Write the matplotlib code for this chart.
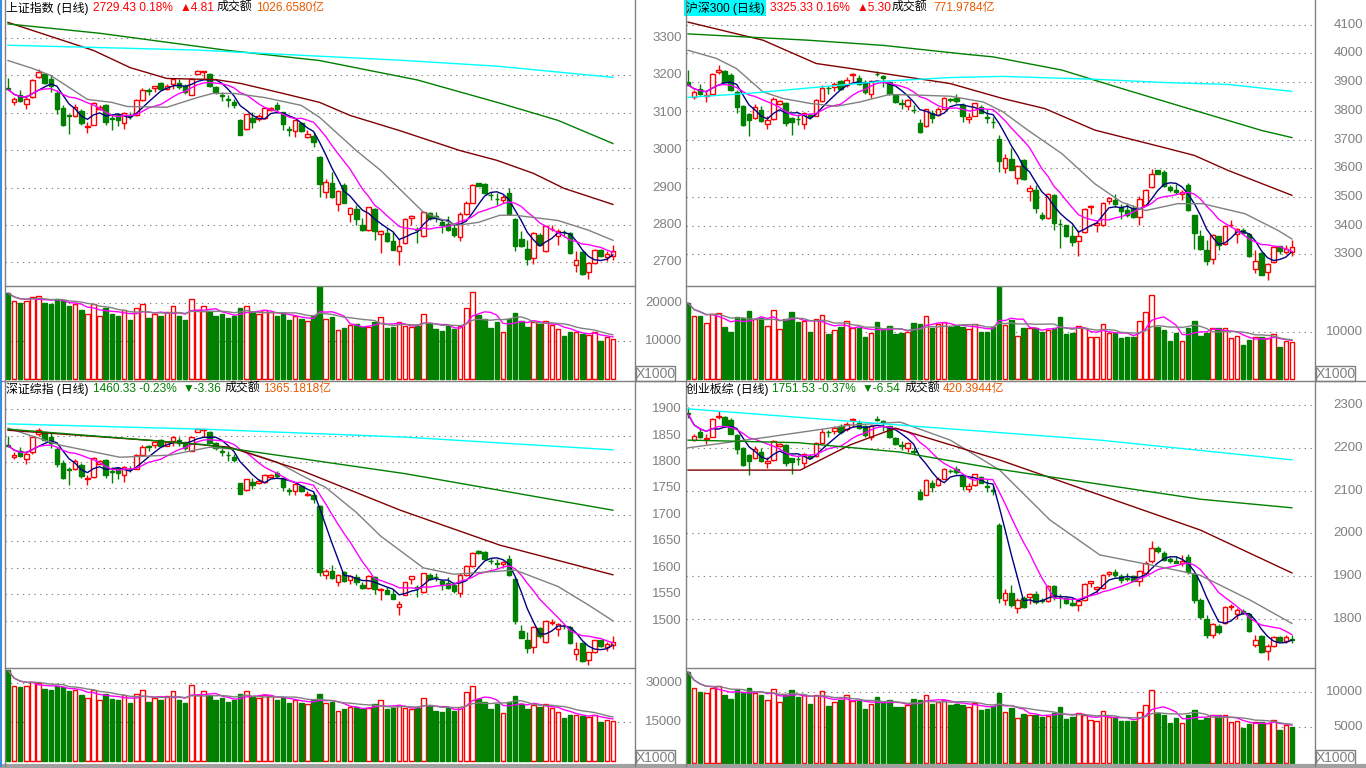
import numpy as np
import pandas as pd
import matplotlib
matplotlib.use('Agg')
import matplotlib.pyplot as plt
from matplotlib.lines import Line2D
from matplotlib.patches import Rectangle
from matplotlib.transforms import blended_transform_factory

plt.rcParams['font.family'] = ['Liberation Sans', 'Noto Sans CJK SC', 'DejaVu Sans']

W, H = 1366, 768
RED = '#ff0000'
GREEN = '#008000'
GRAY = '#808080'
ORANGE = '#e85a00'
NAVY = '#000080'
MAGENTA = '#ff00ff'
MAROON = '#800000'
CYAN = '#00ffff'

# ---------------- 上证指数 (top left) ----------------
tl_open = [3166, 3129, 3147, 3124, 3142, 3196, 3203, 3191, 3153, 3113,
           3094, 3092, 3104, 3062, 3068, 3109, 3120, 3087, 3095, 3074,
           3093, 3093, 3135, 3161, 3166, 3180, 3164, 3178, 3180, 3171,
           3148, 3204, 3209, 3204, 3169, 3148, 3136, 3129, 3082, 3058,
           3086, 3084, 3086, 3107, 3120, 3101, 3056, 3052, 3073, 3036,
           3037, 2983, 2889, 2913, 2856, 2907, 2829, 2843, 2800, 2787,
           2843, 2776, 2778, 2756, 2731, 2752, 2818, 2788, 2771, 2831,
           2823, 2809, 2803, 2793, 2769, 2830, 2860, 2912, 2909, 2880,
           2870, 2867, 2885, 2816, 2762, 2736, 2712, 2774, 2729, 2789,
           2771, 2781, 2778, 2692, 2727, 2673, 2698, 2734, 2714, 2718]
tl_high = [3192, 3142, 3160, 3147, 3191, 3218, 3204, 3200, 3160, 3120,
           3098, 3124, 3111, 3076, 3129, 3120, 3124, 3098, 3100, 3102,
           3102, 3138, 3166, 3166, 3173, 3182, 3178, 3193, 3191, 3178,
           3193, 3215, 3213, 3206, 3173, 3156, 3147, 3138, 3084, 3098,
           3102, 3096, 3116, 3116, 3129, 3102, 3064, 3082, 3075, 3053,
           3049, 2985, 2922, 2943, 2894, 2913, 2849, 2854, 2818, 2849,
           2845, 2787, 2792, 2781, 2762, 2818, 2827, 2794, 2838, 2836,
           2836, 2814, 2823, 2805, 2836, 2863, 2909, 2913, 2912, 2889,
           2885, 2880, 2898, 2818, 2783, 2760, 2780, 2778, 2798, 2800,
           2789, 2787, 2780, 2731, 2729, 2700, 2736, 2736, 2729, 2747]
tl_low = [3160, 3122, 3129, 3109, 3140, 3194, 3178, 3156, 3098, 3064,
          3044, 3089, 3067, 3046, 3067, 3107, 3067, 3053, 3064, 3056,
          3084, 3092, 3133, 3147, 3156, 3162, 3162, 3164, 3164, 3151,
          3147, 3203, 3191, 3169, 3151, 3133, 3116, 3114, 3040, 3055,
          3060, 3078, 3084, 3105, 3102, 3053, 3037, 3036, 3049, 3034,
          3009, 2876, 2873, 2873, 2838, 2858, 2807, 2800, 2784, 2784,
          2759, 2725, 2755, 2732, 2692, 2750, 2800, 2753, 2769, 2814,
          2809, 2778, 2783, 2767, 2756, 2827, 2858, 2903, 2882, 2867,
          2854, 2858, 2827, 2729, 2740, 2694, 2696, 2743, 2728, 2783,
          2747, 2769, 2723, 2673, 2667, 2655, 2696, 2713, 2703, 2707]
tl_close = [3163, 3136, 3132, 3138, 3188, 3209, 3180, 3171, 3109, 3067,
            3091, 3116, 3073, 3066, 3127, 3117, 3076, 3084, 3082, 3100,
            3092, 3135, 3160, 3159, 3173, 3164, 3173, 3191, 3169, 3156,
            3191, 3213, 3212, 3171, 3156, 3144, 3135, 3120, 3042, 3096,
            3076, 3091, 3114, 3114, 3109, 3069, 3055, 3080, 3052, 3043,
            3022, 2909, 2914, 2876, 2891, 2860, 2845, 2816, 2787, 2848,
            2784, 2785, 2758, 2734, 2745, 2816, 2825, 2787, 2836, 2818,
            2822, 2800, 2787, 2774, 2830, 2860, 2907, 2904, 2885, 2879,
            2869, 2876, 2829, 2743, 2743, 2709, 2778, 2747, 2796, 2790,
            2785, 2780, 2725, 2707, 2670, 2698, 2734, 2716, 2723, 2729]
tl_vol = [22500, 20500, 20000, 20500, 21500, 21800, 20000, 19500, 21000, 20500,
          19000, 19500, 18000, 17000, 19500, 16500, 18500, 17000, 16500, 18000,
          15500, 18500, 19500, 16000, 17000, 16500, 17500, 19000, 16500, 15500,
          21000, 18000, 19000, 17500, 16500, 17000, 16000, 16500, 18500, 19000,
          17500, 17000, 18000, 17500, 16500, 17000, 15500, 16500, 15650, 15200,
          16500, 24350, 15800, 16100, 12800, 13300, 14200, 14300, 13500, 13700,
          15000, 16300, 13300, 13700, 14800, 13900, 13500, 13900, 17100, 14600,
          13000, 12600, 13900, 13000, 14000, 18700, 22800, 16700, 15700, 13300,
          15000, 12200, 15700, 17200, 15200, 13500, 14800, 14300, 15200, 14100,
          13000, 11300, 12300, 12200, 11700, 11600, 12200, 10000, 10900, 10400]
tl_ma20 = [(0, 3240), (4, 3219), (7, 3200), (13, 3136), (17, 3128), (19.5, 3117),
           (26, 3115), (31, 3141), (33.5, 3152), (37, 3152), (42, 3141), (48, 3120),
           (51, 3088), (57, 2999), (61, 2946), (68, 2834), (73.5, 2799), (77, 2807),
           (80.5, 2826), (83, 2826), (90, 2812), (95, 2786), (99, 2759)]
tl_ma60 = [(0, 3342), (14, 3267), (20, 3221), (26, 3192), (34, 3189), (38, 3179),
           (45, 3152), (51, 3128), (56, 3093), (64, 3053), (74, 2999), (80, 2973),
           (86, 2938), (91, 2898), (99, 2855)]
tl_ma120 = [(0, 3338), (15, 3313), (36, 3267), (51, 3240), (67, 3188), (80.5, 3126),
            (90, 3080), (99, 3018)]
tl_ma250 = [(0, 3281), (31, 3268), (48, 3254), (64, 3241), (80, 3225), (99, 3195)]

# ---------------- 沪深300 (top right) ----------------
tr_open = [3901, 3849, 3876, 3852, 3860, 3936, 3938, 3924, 3866, 3816,
           3788, 3776, 3802, 3756, 3770, 3823, 3828, 3776, 3773, 3756,
           3785, 3783, 3835, 3879, 3884, 3903, 3890, 3924, 3913, 3901,
           3860, 3929, 3921, 3901, 3855, 3826, 3817, 3803, 3758, 3746,
           3791, 3785, 3808, 3840, 3846, 3822, 3770, 3783, 3814, 3777,
           3762, 3703, 3601, 3634, 3567, 3628, 3521, 3526, 3436, 3428,
           3507, 3407, 3401, 3366, 3346, 3378, 3466, 3401, 3403, 3486,
           3491, 3467, 3456, 3463, 3430, 3474, 3535, 3593, 3587, 3535,
           3523, 3512, 3541, 3436, 3366, 3314, 3285, 3363, 3335, 3402,
           3370, 3386, 3372, 3250, 3306, 3240, 3273, 3328, 3310, 3308]
tr_high = [3942, 3872, 3895, 3872, 3933, 3959, 3942, 3933, 3872, 3820,
           3793, 3823, 3817, 3781, 3849, 3837, 3831, 3779, 3788, 3796,
           3791, 3840, 3890, 3886, 3901, 3909, 3919, 3933, 3924, 3907,
           3907, 3940, 3924, 3903, 3860, 3843, 3840, 3820, 3770, 3808,
           3802, 3814, 3849, 3846, 3860, 3826, 3791, 3828, 3820, 3808,
           3779, 3715, 3649, 3672, 3610, 3631, 3541, 3541, 3448, 3514,
           3510, 3422, 3403, 3401, 3384, 3461, 3471, 3421, 3482, 3500,
           3509, 3477, 3480, 3471, 3502, 3529, 3599, 3595, 3595, 3541,
           3546, 3523, 3549, 3439, 3384, 3349, 3372, 3366, 3401, 3421,
           3392, 3393, 3374, 3314, 3308, 3269, 3328, 3331, 3334, 3352]
tr_low = [3890, 3843, 3855, 3831, 3858, 3930, 3899, 3870, 3793, 3746,
          3712, 3773, 3762, 3738, 3767, 3820, 3746, 3717, 3750, 3738,
          3773, 3781, 3831, 3858, 3870, 3872, 3884, 3898, 3890, 3860,
          3846, 3921, 3884, 3855, 3828, 3808, 3802, 3793, 3723, 3744,
          3758, 3781, 3806, 3831, 3829, 3762, 3758, 3781, 3791, 3758,
          3742, 3587, 3582, 3593, 3546, 3560, 3486, 3444, 3421, 3424,
          3386, 3324, 3360, 3331, 3296, 3375, 3442, 3379, 3400, 3477,
          3465, 3423, 3432, 3428, 3403, 3471, 3531, 3579, 3535, 3517,
          3512, 3491, 3452, 3319, 3316, 3262, 3268, 3314, 3332, 3395,
          3339, 3372, 3291, 3236, 3227, 3211, 3270, 3302, 3302, 3293]
tr_close = [3890, 3864, 3858, 3855, 3930, 3942, 3901, 3872, 3814, 3750,
            3767, 3812, 3765, 3767, 3843, 3833, 3758, 3762, 3772, 3794,
            3777, 3837, 3880, 3878, 3895, 3876, 3909, 3928, 3895, 3866,
            3903, 3928, 3913, 3858, 3831, 3825, 3837, 3802, 3727, 3805,
            3776, 3808, 3846, 3839, 3834, 3781, 3779, 3826, 3793, 3776,
            3761, 3626, 3637, 3595, 3608, 3564, 3531, 3462, 3428, 3512,
            3409, 3406, 3366, 3345, 3364, 3459, 3469, 3409, 3480, 3495,
            3477, 3453, 3436, 3430, 3494, 3526, 3581, 3581, 3537, 3523,
            3517, 3517, 3456, 3374, 3320, 3279, 3369, 3334, 3398, 3404,
            3388, 3374, 3293, 3279, 3230, 3267, 3325, 3312, 3320, 3325]
tr_vol = [16100, 13400, 13300, 11900, 13800, 14000, 11000, 10100, 13100, 12900,
          14500, 12700, 12900, 11300, 14700, 10700, 12700, 14300, 12200, 12400,
          10100, 12800, 13600, 9500, 10500, 11000, 12400, 10800, 10800, 8900,
          9900, 12200, 10600, 11200, 9500, 9800, 10100, 12000, 11800, 13300,
          10800, 11700, 12200, 11000, 11300, 11000, 10700, 11700, 10000, 10100,
          11000, 19600, 11400, 12500, 9100, 10900, 10900, 10900, 10100, 10500,
          10900, 13200, 9500, 9900, 11200, 10800, 9000, 8900, 11800, 9800,
          9700, 8800, 8900, 8900, 12300, 14300, 17900, 11100, 10400, 8100,
          9800, 8100, 10800, 12300, 9200, 9800, 10800, 10800, 10900, 8800,
          9100, 7300, 8400, 9000, 9000, 8800, 9500, 6800, 8100, 7900]
tr_ma20 = [(0, 4011), (4.6, 3983), (7.9, 3948), (12.3, 3866), (15.6, 3843), (20, 3826),
           (24.3, 3816), (28.2, 3831), (33, 3857), (37.4, 3855), (43, 3851), (48.4, 3831),
           (51.6, 3797), (55.7, 3733), (61.3, 3651), (66.7, 3546), (71.1, 3482), (75, 3453),
           (80.3, 3477), (84.3, 3477), (91.3, 3442), (96.7, 3384), (99, 3354)]
tr_ma60 = [(0, 4109), (12.3, 4046), (21, 3965), (26.5, 3948), (34, 3924), (43, 3895),
           (51.6, 3843), (58.5, 3808), (66.7, 3733), (77.7, 3674), (83, 3645), (88.5, 3593),
           (99, 3506)]
tr_ma120 = [(0, 4068), (19.7, 4046), (32, 4028), (45.6, 3997), (50, 3988), (61.3, 3942),
            (72, 3872), (83, 3802), (94, 3732), (99, 3707)]
tr_ma250 = [(0, 3847), (10, 3861), (21, 3882), (32, 3903), (43, 3916), (51.6, 3920),
            (66.7, 3910), (77.7, 3899), (88.5, 3892), (99, 3868)]

# ---------------- 深证综指 (bottom left) ----------------
bl_open = [1833, 1809, 1821, 1806, 1818, 1852, 1856, 1848, 1824, 1799,
           1787, 1786, 1794, 1767, 1771, 1797, 1804, 1783, 1788, 1775,
           1787, 1787, 1813, 1830, 1833, 1842, 1831, 1840, 1842, 1836,
           1821, 1857, 1860, 1857, 1835, 1821, 1814, 1809, 1760, 1748,
           1762, 1761, 1762, 1772, 1779, 1769, 1747, 1745, 1755, 1737,
           1737, 1716, 1586, 1595, 1573, 1593, 1578, 1583, 1567, 1562,
           1583, 1558, 1559, 1550, 1526, 1549, 1580, 1564, 1554, 1587,
           1583, 1575, 1572, 1567, 1553, 1587, 1603, 1632, 1630, 1614,
           1609, 1607, 1617, 1580, 1480, 1464, 1450, 1487, 1460, 1496,
           1485, 1491, 1489, 1438, 1459, 1426, 1441, 1463, 1451, 1454]
bl_high = [1849, 1818, 1829, 1821, 1848, 1865, 1857, 1854, 1829, 1804,
           1790, 1806, 1798, 1776, 1809, 1804, 1806, 1790, 1791, 1792,
           1792, 1815, 1833, 1833, 1837, 1843, 1840, 1850, 1848, 1840,
           1850, 1864, 1862, 1858, 1837, 1826, 1821, 1815, 1761, 1768,
           1770, 1767, 1777, 1777, 1783, 1770, 1751, 1760, 1756, 1745,
           1743, 1718, 1598, 1606, 1588, 1595, 1586, 1588, 1574, 1586,
           1584, 1562, 1564, 1560, 1538, 1574, 1585, 1567, 1591, 1590,
           1590, 1578, 1583, 1573, 1590, 1605, 1630, 1633, 1632, 1619,
           1617, 1614, 1624, 1582, 1492, 1479, 1491, 1489, 1501, 1503,
           1496, 1495, 1491, 1461, 1460, 1442, 1464, 1464, 1460, 1471]
bl_low = [1829, 1805, 1809, 1797, 1816, 1850, 1840, 1826, 1790, 1768,
          1756, 1784, 1770, 1757, 1770, 1796, 1770, 1761, 1768, 1763,
          1781, 1786, 1812, 1821, 1826, 1830, 1830, 1831, 1831, 1823,
          1821, 1856, 1848, 1835, 1823, 1812, 1801, 1800, 1739, 1746,
          1749, 1758, 1761, 1771, 1770, 1745, 1737, 1737, 1743, 1736,
          1723, 1585, 1580, 1580, 1566, 1574, 1570, 1567, 1561, 1561,
          1551, 1539, 1550, 1541, 1511, 1548, 1570, 1545, 1553, 1578,
          1575, 1558, 1561, 1552, 1546, 1585, 1602, 1627, 1615, 1607,
          1600, 1602, 1585, 1495, 1467, 1439, 1440, 1468, 1459, 1492,
          1471, 1484, 1456, 1426, 1423, 1416, 1440, 1450, 1444, 1447]
bl_close = [1831, 1814, 1811, 1815, 1847, 1860, 1842, 1836, 1797, 1770,
            1785, 1801, 1774, 1770, 1808, 1802, 1776, 1781, 1780, 1791,
            1786, 1813, 1829, 1828, 1837, 1831, 1837, 1848, 1835, 1826,
            1848, 1862, 1862, 1836, 1826, 1819, 1813, 1804, 1740, 1767,
            1757, 1764, 1776, 1776, 1773, 1753, 1746, 1759, 1745, 1740,
            1730, 1592, 1595, 1581, 1587, 1575, 1584, 1573, 1562, 1585,
            1561, 1561, 1551, 1542, 1531, 1573, 1584, 1563, 1590, 1580,
            1582, 1570, 1563, 1556, 1587, 1603, 1629, 1628, 1617, 1613,
            1608, 1612, 1586, 1500, 1468, 1448, 1489, 1471, 1500, 1497,
            1494, 1490, 1458, 1447, 1425, 1441, 1463, 1452, 1456, 1460]
bl_vol = [35000, 29000, 28500, 29000, 30500, 30000, 28000, 27500, 29000, 28500,
          27000, 27500, 25500, 24500, 27500, 23500, 26000, 24000, 23500, 25500,
          22500, 26000, 27500, 23000, 24500, 23500, 25000, 27000, 23500, 22500,
          29500, 25500, 27000, 25000, 23500, 24500, 23000, 23500, 26000, 27000,
          25000, 24500, 25500, 25000, 23500, 24500, 22500, 23500, 22500, 22000,
          23500, 26000, 22500, 23000, 19500, 20000, 21000, 21000, 20000, 20500,
          22000, 23500, 20000, 20500, 21500, 20500, 20000, 20500, 24500, 21500,
          19500, 19000, 20500, 19500, 21000, 26500, 29000, 24000, 23000, 20000,
          22000, 18500, 23000, 25000, 22000, 20000, 21500, 21000, 22000, 20500,
          19000, 16500, 18000, 18000, 17500, 17000, 18000, 15000, 16000, 15500]
bl_ma20 = [(0, 1864), (8.5, 1832), (18.3, 1809), (26.5, 1813), (33, 1828), (38, 1823),
           (44, 1800), (48, 1775), (52, 1752), (57, 1705), (61, 1660), (68, 1600),
           (73, 1588), (78, 1592), (83, 1596), (90, 1565), (95, 1530), (99, 1500)]
bl_ma60 = [(0, 1860), (23.2, 1841), (36.3, 1828), (47.8, 1785), (64.2, 1709),
           (80.5, 1643), (99, 1587)]
bl_ma120 = [(0, 1862), (32, 1833), (65, 1778), (99, 1709)]
bl_ma250 = [(0, 1872), (32, 1862), (65, 1847), (99, 1823)]

# ---------------- 创业板综 (bottom right) ----------------
br_open = [2282, 2219, 2236, 2221, 2226, 2272, 2273, 2264, 2230, 2200,
           2183, 2176, 2191, 2164, 2172, 2204, 2207, 2176, 2174, 2164,
           2181, 2180, 2211, 2237, 2240, 2252, 2244, 2264, 2258, 2251,
           2226, 2267, 2263, 2251, 2223, 2206, 2200, 2192, 2098, 2091,
           2118, 2114, 2128, 2147, 2150, 2136, 2105, 2113, 2131, 2110,
           2101, 2020, 1845, 1860, 1826, 1850, 1852, 1858, 1845, 1842,
           1878, 1852, 1850, 1838, 1832, 1845, 1885, 1870, 1872, 1905,
           1910, 1900, 1895, 1900, 1889, 1908, 1935, 1966, 1955, 1940,
           1935, 1930, 1945, 1905, 1845, 1800, 1762, 1785, 1790, 1828,
           1812, 1820, 1812, 1740, 1760, 1725, 1738, 1758, 1750, 1754]
br_high = [2296, 2233, 2247, 2233, 2270, 2285, 2275, 2270, 2233, 2202,
           2186, 2204, 2200, 2179, 2219, 2212, 2209, 2177, 2183, 2188,
           2185, 2214, 2244, 2242, 2251, 2255, 2261, 2270, 2264, 2254,
           2254, 2274, 2264, 2252, 2226, 2216, 2214, 2202, 2105, 2128,
           2124, 2131, 2152, 2150, 2158, 2138, 2118, 2140, 2135, 2128,
           2111, 2024, 1870, 1880, 1850, 1855, 1862, 1866, 1850, 1880,
           1880, 1858, 1852, 1852, 1845, 1885, 1890, 1878, 1905, 1912,
           1918, 1905, 1908, 1903, 1915, 1935, 1982, 1970, 1960, 1945,
           1948, 1950, 1952, 1908, 1850, 1810, 1790, 1788, 1830, 1835,
           1826, 1824, 1814, 1762, 1762, 1742, 1760, 1760, 1762, 1762]
br_low = [2270, 2216, 2223, 2209, 2225, 2268, 2249, 2232, 2186, 2158,
          2137, 2174, 2167, 2153, 2170, 2202, 2158, 2140, 2160, 2153,
          2174, 2179, 2209, 2225, 2232, 2233, 2240, 2249, 2244, 2226,
          2218, 2263, 2240, 2223, 2207, 2195, 2191, 2186, 2078, 2090,
          2098, 2112, 2127, 2141, 2140, 2101, 2098, 2112, 2118, 2098,
          2089, 1838, 1832, 1828, 1815, 1825, 1835, 1835, 1838, 1840,
          1845, 1825, 1836, 1830, 1818, 1843, 1875, 1862, 1870, 1900,
          1898, 1885, 1890, 1888, 1878, 1906, 1932, 1955, 1935, 1930,
          1930, 1925, 1905, 1838, 1800, 1755, 1755, 1765, 1788, 1822,
          1800, 1812, 1770, 1735, 1720, 1705, 1736, 1748, 1745, 1745]
br_close = [2279, 2228, 2225, 2223, 2268, 2275, 2251, 2233, 2198, 2160,
            2170, 2197, 2169, 2170, 2216, 2210, 2165, 2167, 2173, 2186,
            2176, 2212, 2238, 2236, 2247, 2236, 2255, 2267, 2247, 2230,
            2252, 2266, 2258, 2225, 2209, 2205, 2212, 2191, 2080, 2126,
            2109, 2128, 2150, 2146, 2143, 2112, 2111, 2138, 2119, 2109,
            2100, 1850, 1862, 1832, 1845, 1828, 1858, 1840, 1842, 1878,
            1852, 1851, 1838, 1832, 1842, 1883, 1888, 1874, 1903, 1909,
            1903, 1892, 1893, 1889, 1912, 1932, 1965, 1958, 1938, 1935,
            1932, 1936, 1910, 1845, 1805, 1762, 1788, 1770, 1828, 1830,
            1822, 1814, 1772, 1752, 1724, 1738, 1758, 1750, 1758, 1751.5]
br_vol = [12800, 10500, 10000, 9800, 10600, 10800, 9500, 9000, 10200, 10000,
          10500, 9800, 9600, 8800, 10400, 8600, 9600, 10200, 9300, 9500,
          8300, 9600, 10100, 8000, 8600, 8800, 9500, 8700, 8700, 7600,
          8300, 9300, 8500, 8800, 7800, 7900, 8200, 9000, 8900, 9600,
          8300, 8600, 8900, 8200, 8300, 8200, 7900, 8400, 7500, 7600,
          8000, 9800, 7200, 7700, 6300, 6900, 6800, 6800, 6500, 6600,
          7000, 7800, 6200, 6400, 7000, 6800, 6000, 5900, 7300, 6400,
          6300, 5900, 5900, 5900, 7200, 8200, 10300, 7000, 6700, 5600,
          6300, 5600, 6800, 7500, 6000, 6300, 6700, 6700, 6700, 5700,
          5900, 4900, 5500, 5800, 5800, 5600, 6000, 4600, 5300, 5100]
br_ma20 = [(0, 2200), (13, 2225), (26.6, 2253), (34.8, 2260), (43, 2218), (51.1, 2148),
           (59.3, 2032), (67.5, 1950), (75.7, 1927), (83.9, 1903), (92.1, 1845), (99, 1790)]
br_ma60 = [(0, 2148), (18.4, 2148), (26.6, 2207), (34, 2246), (43, 2207), (51, 2172),
           (67.5, 2090), (84, 2008), (99, 1908)]
br_ma120 = [(0, 2218), (18, 2212), (34.8, 2190), (51, 2150), (67.5, 2115), (84, 2080),
            (99, 2060)]
br_ma250 = [(0, 2291), (34.8, 2253), (67.5, 2218), (99, 2172)]

# axis ticks
tl_price_ticks = [2700, 2800, 2900, 3000, 3100, 3200, 3300]
tl_vol_ticks = [10000, 20000]
tr_price_ticks = [3300, 3400, 3500, 3600, 3700, 3800, 3900, 4000, 4100]
tr_vol_ticks = [10000]
bl_price_ticks = [1500, 1550, 1600, 1650, 1700, 1750, 1800, 1850, 1900]
bl_vol_ticks = [15000, 30000]
br_price_ticks = [1800, 1900, 2000, 2100, 2200, 2300]
br_vol_ticks = [5000, 10000]

fig = plt.figure(figsize=(W / 100, H / 100), dpi=100)
fig.patch.set_facecolor('white')


def px_axes(x0, y0, x1, y1):
    ax = fig.add_axes([x0 / W, 1 - y1 / H, (x1 - x0) / W, (y1 - y0) / H])
    ax.set_axis_off()
    ax.patch.set_alpha(0)
    return ax


def hline(y, x0, x1, color=GRAY, lw=1.0):
    fig.add_artist(Line2D([x0 / W, x1 / W], [1 - y / H, 1 - y / H], color=color, lw=lw))


def vline(x, y0, y1, color=GRAY, lw=1.0):
    fig.add_artist(Line2D([x / W, x / W], [1 - y0 / H, 1 - y1 / H], color=color, lw=lw))


def draw_panel(box, plim, vlim, pticks, vticks, label_x, o, h, l, c, v, mas):
    x0, x1, yt, ym, yb, first, step = box
    xl = (-(first - x0) / step, (x1 - first) / step)
    axp = px_axes(x0, yt, x1, ym)
    axv = px_axes(x0, ym, x1, yb)
    axp.set_xlim(*xl)
    axp.set_ylim(*plim)
    axv.set_xlim(*xl)
    axv.set_ylim(*vlim)
    dots = (0, (1.2, 4))
    for ax, ticks in ((axp, pticks), (axv, vticks)):
        tr = blended_transform_factory(fig.transFigure, ax.transData)
        for t in ticks:
            ax.axhline(t, color=GRAY, lw=0.8, ls=dots, zorder=0)
            ax.text(label_x / W, t, str(t), transform=tr, ha='right', va='center',
                    color=GRAY, fontsize=9.5, clip_on=False)
    o, h, l, c, v = map(np.asarray, (o, h, l, c, v))
    x = np.arange(len(o))
    up = c > o
    dn = ~up
    top = np.maximum(o, c)
    bot = np.minimum(o, c)
    cols = np.where(up, RED, GREEN)
    axp.vlines(x, top, h, colors=cols, lw=1, zorder=2)
    axp.vlines(x, l, bot, colors=cols, lw=1, zorder=2)
    bw = 0.74
    axp.bar(x[up], (c - o)[up], bottom=o[up], width=bw, facecolor='white',
            edgecolor=RED, lw=1, zorder=3)
    axp.bar(x[dn], np.maximum((o - c)[dn], 0.5), bottom=c[dn], width=bw,
            facecolor=GREEN, edgecolor=GREEN, lw=1, zorder=3)
    # moving averages
    cs = pd.Series(c)
    axp.plot(x, cs.rolling(5, min_periods=1).mean(), color=NAVY, lw=1, zorder=4)
    axp.plot(x, cs.rolling(10, min_periods=1).mean(), color=MAGENTA, lw=1, zorder=4)
    for pts, col in mas:
        px_, py_ = zip(*pts)
        axp.plot(px_, py_, color=col, lw=1, zorder=4)
    # volume
    axv.bar(x[up], v[up], width=bw, facecolor='white', edgecolor=RED, lw=1, zorder=3)
    axv.bar(x[dn], v[dn], width=bw, facecolor=GREEN, edgecolor=GREEN, lw=1, zorder=3)
    vs = pd.Series(v)
    axv.plot(x, vs.rolling(5, min_periods=1).mean(), color=MAGENTA, lw=1, zorder=4)
    axv.plot(x, vs.rolling(10, min_periods=1).mean(), color=GRAY, lw=1, zorder=4)


draw_panel((5, 635, 0, 285.5, 381, 8, 6.11), (2638, 3402), (-526, 24470),
           tl_price_ticks, tl_vol_ticks, 682,
           tl_open, tl_high, tl_low, tl_close, tl_vol,
           ((tl_ma20, GRAY), (tl_ma60, MAROON), (tl_ma120, GREEN), (tl_ma250, CYAN)))
draw_panel((686, 1315, 0, 285.5, 381, 688, 6.1), (3192, 4186), (-318, 19810),
           tr_price_ticks, tr_vol_ticks, 1363,
           tr_open, tr_high, tr_low, tr_close, tr_vol,
           ((tr_ma20, GRAY), (tr_ma60, MAROON), (tr_ma120, GREEN), (tr_ma250, CYAN)))
draw_panel((5, 635, 381, 668, 765, 8, 6.11), (1411, 1953), (-1423, 35885),
           bl_price_ticks, bl_vol_ticks, 682,
           bl_open, bl_high, bl_low, bl_close, bl_vol,
           ((bl_ma20, GRAY), (bl_ma60, MAROON), (bl_ma120, GREEN), (bl_ma250, CYAN)))
draw_panel((686, 1315, 381, 668, 765, 688, 6.1), (1686, 2356), (-281, 13343),
           br_price_ticks, br_vol_ticks, 1363,
           br_open, br_high, br_low, br_close, br_vol,
           ((br_ma20, GRAY), (br_ma60, MAROON), (br_ma120, GREEN), (br_ma250, CYAN)))

# frame lines
for y in (285.5, 668):
    hline(y, 5, 635)
    hline(y, 686, 1315)
hline(381, 0, W)
hline(766, 0, W, color='#a0a0a0', lw=3)
for x in (5, 635, 686, 1315):
    vline(x, 0, 766)
vline(1, 0, 766, color='#3c8ce0', lw=1.5)

# X1000 boxes
for bx, by in ((636, 366), (1316, 366), (636, 750), (1316, 750)):
    fig.add_artist(Rectangle((bx / W, 1 - (by + 15) / H), 39 / W, 15 / H,
                             fill=False, edgecolor=GRAY, lw=1))
    fig.text((bx + 19.5) / W, 1 - (by + 7.5) / H, 'X1000', ha='center', va='center',
             color=GRAY, fontsize=10)

# titles
TF = 8.6


def title(y, pieces):
    for x, s, col in pieces:
        fig.text(x / W, 1 - y / H, s, ha='left', va='center', color=col,
                 fontsize=TF, zorder=6)


hl = Rectangle((684 / W, 1 - 16 / H), 82 / W, 16 / H, facecolor=CYAN,
               edgecolor='none', zorder=1)
fig.add_artist(hl)
title(8, [(6, '上证指数 (日线)', 'black'), (93, '2729.43 0.18%', RED),
          (180, '▲4.81', RED), (217, '成交额', 'black'), (256, '1026.6580亿', ORANGE)])
title(8, [(686, '沪深300 (日线)', 'black'), (770, '3325.33 0.16%', RED),
          (857, '▲5.30', RED), (892, '成交额', 'black'), (933, '771.9784亿', ORANGE)])
title(389, [(6, '深证综指 (日线)', 'black'), (93, '1460.33 -0.23%', GREEN),
            (183, '▼-3.36', GREEN), (225, '成交额', 'black'), (263, '1365.1818亿', ORANGE)])
title(389, [(686, '创业板综 (日线)', 'black'), (772, '1751.53 -0.37%', GREEN),
            (862, '▼-6.54', GREEN), (905, '成交额', 'black'), (943, '420.3944亿', ORANGE)])

fig.savefig('out.png', dpi=100, facecolor='white')
